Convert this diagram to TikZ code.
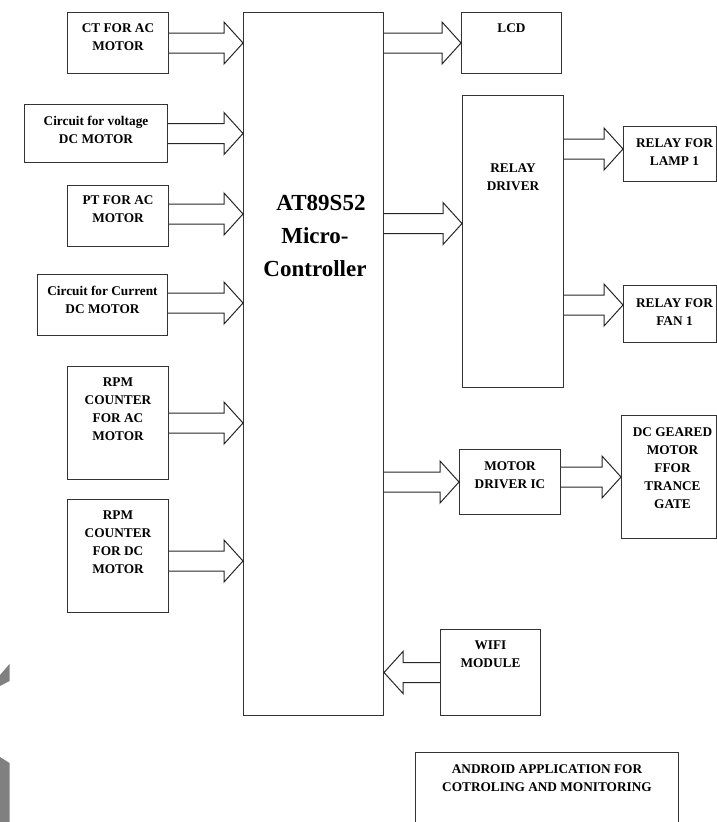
\documentclass[tikz,border=0pt]{standalone}
\usepackage{fontspec}
\setmainfont{Liberation Serif}
\usetikzlibrary{calc}

\tikzset{
  blk/.style={draw=black!80, line width=1pt, inner sep=0pt, anchor=north west},
  lbl/.style={font=\fontsize{13.3}{18}\selectfont\bfseries, align=center, anchor=north, inner sep=0pt},
  fatarr/.style={draw=black!85, line width=1pt, line join=miter}
}

% hollow block arrow between two points on the same level
\newcommand{\fatarrow}[2]{%
  \draw[fatarr] let \p1=#1, \p2=#2, \n1={sign(\x2-\x1)} in
    (\x1,\y1+10pt) -- ({\x2-\n1*19pt},\y1+10pt) -- ({\x2-\n1*19pt},\y1+21pt)
    -- (\x2,\y1) -- ({\x2-\n1*19pt},\y1-21pt) -- ({\x2-\n1*19pt},\y1-10pt) -- (\x1,\y1-10pt);}

\begin{document}
\begin{tikzpicture}[x=1pt, y=-1pt]
  \useasboundingbox (0,0) rectangle (717,822);
  \clip (0,0) rectangle (717,822);

  % Inputs
  \node[blk, minimum width=101pt, minimum height=61pt] (ct) at (67,12) {};
  \node[lbl] (ct-t) at ([yshift=-11.5pt]ct.north) {CT FOR AC\\MOTOR};
  \node[blk, minimum width=143pt, minimum height=58pt] (volt) at (24,104) {};
  \node[lbl] (volt-t) at ([yshift=-12pt]volt.north) {Circuit for voltage\\DC MOTOR};
  \node[blk, minimum width=101pt, minimum height=61pt] (ptac) at (67,185) {};
  \node[lbl] (ptac-t) at ([yshift=-10.5pt]ptac.north) {PT FOR AC\\MOTOR};
  \node[blk, minimum width=130pt, minimum height=61pt] (cur) at (37,274) {};
  \node[lbl] (cur-t) at ([yshift=-12pt]cur.north) {Circuit for Current\\DC MOTOR};
  \node[blk, minimum width=101pt, minimum height=113pt] (rpmac) at (67,366) {};
  \node[lbl] (rpmac-t) at ([yshift=-11.5pt]rpmac.north) {RPM\\COUNTER\\FOR AC\\MOTOR};
  \node[blk, minimum width=101pt, minimum height=113pt] (rpmdc) at (67,499) {};
  \node[lbl] (rpmdc-t) at ([yshift=-11.5pt]rpmdc.north) {RPM\\COUNTER\\FOR DC\\MOTOR};

  % Controller
  \node[blk, minimum width=140pt, minimum height=703pt] (mcu) at (243,12) {};
  \node[font=\fontsize{23}{33}\selectfont\bfseries, align=center, inner sep=0pt] (mcu-t) at (315,236) {\hspace*{12pt}AT89S52\\Micro-\\Controller};

  % Outputs
  \node[blk, minimum width=100pt, minimum height=61pt] (lcd) at (461,12) {};
  \node[lbl] (lcd-t) at ([yshift=-11.5pt]lcd.north) {LCD};
  \node[blk, minimum width=101pt, minimum height=292pt] (rd) at (462,95) {};
  \node[lbl] (rd-t) at ([yshift=-68.5pt]rd.north) {RELAY\\DRIVER};
  \node[blk, minimum width=93pt, minimum height=55pt] (lamp) at (623,126) {};
  \node[lbl] (lamp-t) at ([xshift=4.5pt, yshift=-12.5pt]lamp.north) {RELAY FOR\\LAMP 1};
  \node[blk, minimum width=93pt, minimum height=57pt] (fan) at (623,285) {};
  \node[lbl] (fan-t) at ([xshift=4.5pt, yshift=-13pt]fan.north) {RELAY FOR\\FAN 1};
  \node[blk, minimum width=101pt, minimum height=65pt] (md) at (459,449) {};
  \node[lbl] (md-t) at ([yshift=-12.5pt]md.north) {MOTOR\\DRIVER IC};
  \node[blk, minimum width=95pt, minimum height=123pt] (dcm) at (621,415) {};
  \node[lbl] (dcm-t) at ([xshift=3.5pt, yshift=-12.5pt]dcm.north) {DC GEARED\\MOTOR\\FFOR\\TRANCE\\GATE};
  \node[blk, minimum width=100pt, minimum height=86pt] (wifi) at (440,629) {};
  \node[lbl] (wifi-t) at ([yshift=-11.5pt]wifi.north) {WIFI\\MODULE};
  \node[blk, minimum width=263pt, minimum height=80pt] (andr) at (415,752) {};
  \node[lbl] (andr-t) at ([yshift=-12.5pt]andr.north) {ANDROID APPLICATION FOR\\COTROLING AND MONITORING};

  % Arrows into the controller
  \fatarrow{(ct.east)}{(ct.east -| mcu.west)}
  \fatarrow{(volt.east)}{(volt.east -| mcu.west)}
  \fatarrow{([yshift=2pt]ptac.east)}{([yshift=2pt]ptac.east -| mcu.west)}
  \fatarrow{([yshift=2pt]cur.east)}{([yshift=2pt]cur.east -| mcu.west)}
  \fatarrow{(rpmac.east)}{(rpmac.east -| mcu.west)}
  \fatarrow{([yshift=-5pt]rpmdc.east)}{([yshift=-5pt]rpmdc.east -| mcu.west)}
  \fatarrow{(wifi.west)}{(wifi.west -| mcu.east)}

  % Arrows out of the controller
  \fatarrow{(mcu.east |- lcd.west)}{(lcd.west)}
  \fatarrow{([yshift=18pt]mcu.east |- rd.west)}{([yshift=18pt]rd.west)}
  \fatarrow{(mcu.east |- md.west)}{(md.west)}
  \fatarrow{(md.east |- dcm.west)}{(md.east -| dcm.west)}
  \fatarrow{([yshift=5pt]rd.east |- lamp.west)}{([yshift=5pt]lamp.west)}
  \fatarrow{([yshift=9pt]rd.east |- fan.west)}{([yshift=9pt]fan.west)}

  % grey marks at the left edge
  \fill[gray] (0,675) -- (9.5,664) -- (9.5,681) -- (0,686) -- cycle;
  \fill[gray] (0,757) -- (9.5,763) -- (9.5,822) -- (0,822) -- cycle;
\end{tikzpicture}
\end{document}
